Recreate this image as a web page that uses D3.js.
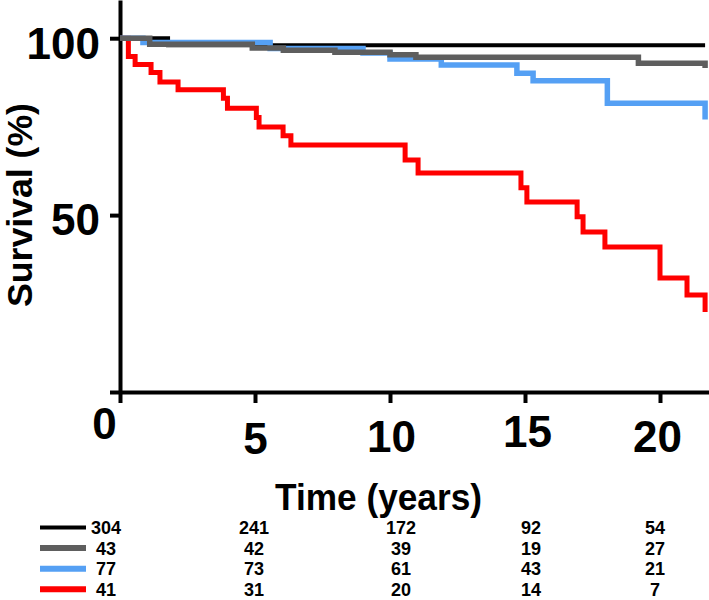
<!DOCTYPE html>
<html><head><meta charset="utf-8">
<script src="https://cdn.jsdelivr.net/npm/d3@7"></script>
<style>
html,body{margin:0;padding:0;background:#fff;}
svg{display:block;font-family:"Liberation Sans",Arial,sans-serif;font-weight:bold;}
</style>
</head><body>
<svg id="chart" width="709" height="600"></svg>
<script>
// ---------- data ----------
const xTickValues = [0, 5, 10, 15, 20];
const yTickValues = [0, 50, 100];
const yTickLabels = ["", "50", "100"];

const blackTimes = [0, 1.78, 21.67];
const blackSurv  = [100, 98.0, 98.0];

const grayTimes = [0, 1.1, 4.9, 6.05, 7.96, 10.0, 10.96, 19.2, 21.67];
const graySurv  = [100, 98.3, 97.2, 96.6, 96.0, 95.3, 94.6, 92.9, 91.6];

const blueTimes = [0, 0.85, 5.56, 9.0, 10.0, 11.9, 14.7, 15.3, 18.05, 21.67];
const blueSurv  = [100, 98.8, 97.1, 95.8, 94.1, 92.4, 90.1, 88.0, 81.6, 77.0];

const redTimes = [0, 0.31, 0.56, 1.15, 1.48, 2.15, 3.83, 3.98, 5.05, 5.15, 6.04, 6.33,
                  10.56, 11.04, 14.85, 15.07, 16.93, 17.15, 17.96, 20.0, 21.0, 21.67];
const redSurv  = [100, 94.8, 92.6, 90.3, 87.6, 85.4, 83.0, 80.2, 77.6, 74.9, 72.4, 69.8,
                  65.6, 61.9, 57.7, 53.7, 49.5, 45.2, 41.0, 32.2, 27.4, 22.6];

const atRiskTimes = [0, 5, 10, 15, 20];
const atRiskBlack = [304, 241, 172, 92, 54];
const atRiskGray  = [43, 42, 39, 19, 27];
const atRiskBlue  = [77, 73, 61, 43, 21];
const atRiskRed   = [41, 31, 20, 14, 7];

const xTitle = "Time (years)";
const yTitle = "Survival (%)";

// ---------- styles / layout ----------
const colors = {black: "#000000", gray: "#5e5e5e", blue: "#55a0f4", red: "#ff0000"};
const widths = {black: 4, gray: 5.5, blue: 5.5, red: 5};

const svg = d3.select("#chart");
const x = d3.scaleLinear().domain([0, 21.8]).range([120, 708.6]);
const y = d3.scaleLinear().domain([0, 110.8]).range([392, 0]);

// axes
const yAxis = svg.append("g").attr("transform", "translate(120,0)")
  .call(d3.axisLeft(y).tickValues(yTickValues).tickSize(10).tickSizeOuter(0)
        .tickPadding(10).tickFormat((d, i) => yTickLabels[i]));
const xAxis = svg.append("g").attr("transform", "translate(0,392)")
  .call(d3.axisBottom(x).tickValues(xTickValues).tickSize(11).tickSizeOuter(0)
        .tickFormat(d3.format("d")));

[yAxis, xAxis].forEach(g => {
  g.attr("font-family", null).attr("font-size", null);
  g.select(".domain").attr("stroke", "#000").attr("stroke-width", 4);
  g.selectAll(".tick line").attr("stroke", "#000").attr("stroke-width", 4);
  g.selectAll(".tick text").attr("fill", "#000").style("font-size", "44px");
});
yAxis.selectAll(".tick text").attr("dy", "0.45em");
const xLabelDx = [-16, 0, 1, 2, -3];
const xLabelY = [47, 62, 60, 55, 60];
xAxis.selectAll(".tick text")
  .attr("dy", null)
  .attr("dx", (d, i) => xLabelDx[i])
  .attr("y", (d, i) => xLabelY[i]);

// titles
svg.append("text").attr("transform", "translate(32,205) rotate(-90)")
  .attr("text-anchor", "middle").style("font-size", "35px")
  .attr("textLength", 204).attr("lengthAdjust", "spacingAndGlyphs")
  .text(yTitle);
svg.append("text").attr("x", 378.5).attr("y", 510)
  .attr("text-anchor", "middle").style("font-size", "37px")
  .attr("textLength", 207).attr("lengthAdjust", "spacingAndGlyphs")
  .text(xTitle);

// curves
const line = d3.line().curve(d3.curveStepAfter).x(d => x(d[0])).y(d => y(d[1]));
const curves = [
  {key: "red", t: redTimes, s: redSurv},
  {key: "black", t: blackTimes, s: blackSurv},
  {key: "blue", t: blueTimes, s: blueSurv},
  {key: "gray", t: grayTimes, s: graySurv}
];
curves.forEach(c => {
  svg.append("path")
    .attr("d", line(c.t.map((t, i) => [t, c.s[i]])))
    .attr("fill", "none")
    .attr("stroke", colors[c.key])
    .attr("stroke-width", widths[c.key])
    .attr("stroke-linejoin", "miter")
    .attr("stroke-linecap", "butt");
});

// number-at-risk table
const rows = [
  {key: "black", n: atRiskBlack},
  {key: "gray", n: atRiskGray},
  {key: "blue", n: atRiskBlue},
  {key: "red", n: atRiskRed}
];
const colDx = [-14, -1, 11, 6, -5];
const rowBase = 534, rowStep = 20.6;
const legendW = {black: 4, gray: 6, blue: 6, red: 6};
rows.forEach((r, i) => {
  const by = rowBase + i * rowStep;
  svg.append("line").attr("x1", 40).attr("x2", 86)
    .attr("y1", by - 6.5).attr("y2", by - 6.5)
    .attr("stroke", colors[r.key]).attr("stroke-width", legendW[r.key]);
  svg.selectAll(null).data(r.n).enter().append("text")
    .attr("x", (d, j) => x(atRiskTimes[j]) + colDx[j])
    .attr("y", by)
    .attr("text-anchor", "middle")
    .style("font-size", "18px")
    .text(d => d);
});
</script>
</body></html>
